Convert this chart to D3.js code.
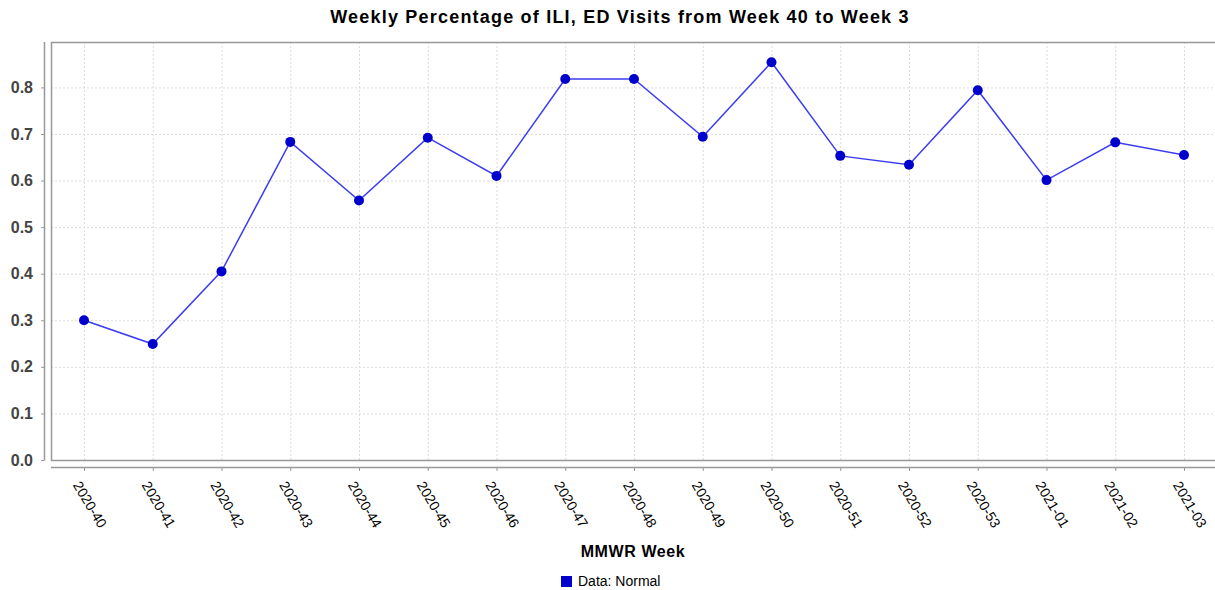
<!DOCTYPE html>
<meta charset="utf-8">
<style>
  body { margin: 0; background: #fff; }
  text { font-family: "Liberation Sans", Arial, sans-serif; }
</style>
<body>
<svg width="1215" height="590"></svg>

<script src="https://cdn.jsdelivr.net/npm/d3@7/dist/d3.min.js"></script>
<script>

// data
var weeks = ["2020-40", "2020-41", "2020-42", "2020-43", "2020-44", "2020-45",
             "2020-46", "2020-47", "2020-48", "2020-49", "2020-50", "2020-51",
             "2020-52", "2020-53", "2021-01", "2021-02", "2021-03"];
var percent = [0.300, 0.249, 0.405, 0.683, 0.557, 0.692, 0.610, 0.818, 0.818,
               0.694, 0.854, 0.653, 0.634, 0.794, 0.601, 0.682, 0.655];
var yTicks = [0.0, 0.1, 0.2, 0.3, 0.4, 0.5, 0.6, 0.7, 0.8];
var yMax = 0.8975;

var titleText = "Weekly Percentage of ILI, ED Visits from Week 40 to Week 3";
var xLabel = "MMWR Week";
var legendText = "Data: Normal";

var svg = d3.select("svg");

// plot box
var plot = {left: 51, top: 42, right: 1216, bottom: 460};

var x = d3.scalePoint()
    .domain(weeks)
    .range([plot.left + 33, plot.right - 32]);

var y = d3.scaleLinear()
    .domain([0, yMax])
    .range([plot.bottom, plot.top]);

// title
svg.append("text")
    .attr("x", 620)
    .attr("y", 23)
    .attr("text-anchor", "middle")
    .style("font-size", "18px")
    .style("font-weight", "bold")
    .style("letter-spacing", "1.2px")
    .text(titleText);

// gridlines
var grid = svg.append("g").attr("class", "grid");

grid.selectAll(".hgrid")
    .data(yTicks.filter(function(d) { return d > 0; }))
    .enter().append("line")
    .attr("x1", plot.left).attr("x2", plot.right)
    .attr("y1", function(d) { return y(d) + 0.5; })
    .attr("y2", function(d) { return y(d) + 0.5; })
    .attr("stroke", "#dcdcdc")
    .attr("stroke-dasharray", "2,2");

grid.selectAll(".vgrid")
    .data(weeks)
    .enter().append("line")
    .attr("x1", function(d) { return x(d) + 0.5; })
    .attr("x2", function(d) { return x(d) + 0.5; })
    .attr("y1", plot.top).attr("y2", plot.bottom)
    .attr("stroke", "#dcdcdc")
    .attr("stroke-dasharray", "2,2");

// plot outline (top, left, bottom)
svg.append("path")
    .attr("d", "M" + plot.right + "," + (plot.top + 0.5) +
               "H" + (plot.left + 0.5) +
               "V" + (plot.bottom + 0.5) +
               "H" + plot.right)
    .attr("fill", "none")
    .attr("stroke", "#999")
    .attr("stroke-width", 1.5);

// y axis, set apart from the plot
var yAxis = d3.axisLeft(y)
    .tickValues(yTicks)
    .tickFormat(d3.format(".1f"))
    .tickSize(3)
    .tickPadding(8);

var yG = svg.append("g")
    .attr("transform", "translate(" + (plot.left - 7) + ",0)")
    .call(yAxis);
yG.select(".domain").remove();
yG.append("line")
    .attr("x1", 0.5).attr("x2", 0.5)
    .attr("y1", plot.top).attr("y2", plot.bottom + 0.5)
    .attr("stroke", "#999").attr("stroke-width", 1.5);
yG.selectAll(".tick line").attr("stroke", "#999");
yG.selectAll(".tick text")
    .style("font-size", "16px")
    .style("font-weight", "bold")
    .attr("fill", "#444");

// x axis
var xAxis = d3.axisBottom(x).tickSize(4).tickPadding(0);

var xG = svg.append("g")
    .attr("transform", "translate(0," + (plot.bottom + 7) + ")")
    .call(xAxis);
xG.select(".domain").remove();
xG.append("line")
    .attr("x1", plot.left).attr("x2", plot.right)
    .attr("y1", 0.5).attr("y2", 0.5)
    .attr("stroke", "#999").attr("stroke-width", 1.5);
xG.selectAll(".tick line").attr("stroke", "#999");
xG.selectAll(".tick text")
    .attr("y", 0)
    .attr("dy", 0)
    .attr("text-anchor", "start")
    .attr("transform", "translate(-12,18) rotate(59)")
    .style("font-size", "14px")
    .attr("fill", "#000");

// x axis title
svg.append("text")
    .attr("x", 633)
    .attr("y", 557)
    .attr("text-anchor", "middle")
    .style("font-size", "16px")
    .style("font-weight", "bold")
    .style("letter-spacing", "0.6px")
    .text(xLabel);

// series line
var line = d3.line()
    .x(function(d, i) { return x(weeks[i]); })
    .y(function(d) { return y(d); });

svg.append("path")
    .datum(percent)
    .attr("d", line)
    .attr("fill", "none")
    .attr("stroke", "#3c3cf0")
    .attr("stroke-width", 1.5);

svg.selectAll(".dot")
    .data(percent)
    .enter().append("circle")
    .attr("class", "dot")
    .attr("cx", function(d, i) { return x(weeks[i]); })
    .attr("cy", function(d) { return y(d); })
    .attr("r", 5)
    .attr("fill", "#0000cc");

// legend
var legend = svg.append("g").attr("transform", "translate(561,576)");
legend.append("rect")
    .attr("width", 11).attr("height", 11)
    .attr("fill", "#0000cc");
legend.append("text")
    .attr("x", 17).attr("y", 10)
    .style("font-size", "14px")
    .text(legendText);

</script>
</body>
